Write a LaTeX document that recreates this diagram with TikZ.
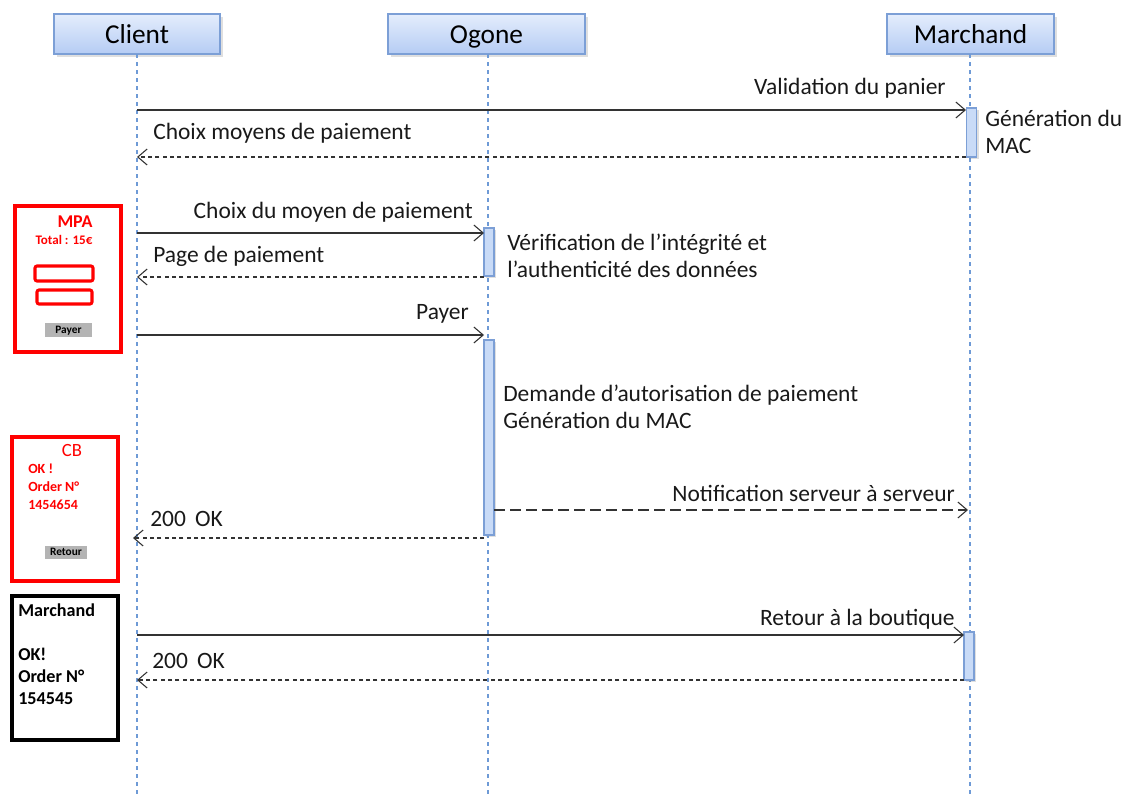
\documentclass[tikz,border=0pt]{standalone}
\usepackage{fontspec}
\setmainfont{Carlito}
\usetikzlibrary{arrows.meta,shadows}
\definecolor{hdrtop}{HTML}{E4EDFC}
\definecolor{hdrbot}{HTML}{B5CCF4}
\definecolor{hdredge}{HTML}{7C9FD6}
\definecolor{lifeblue}{HTML}{6E9AD6}
\definecolor{actfill}{HTML}{C9DBF7}
\definecolor{btngray}{HTML}{B4B4B4}
\tikzset{
  head/.style={draw=hdredge, line width=0.9pt, top color=hdrtop, bottom color=hdrbot,
    minimum height=30pt, inner sep=0pt, text height=14.5pt, text depth=0pt, font=\fontsize{20.5pt}{24pt}\selectfont,
    drop shadow={shadow xshift=2pt, shadow yshift=-2pt, opacity=0.25}},
  life/.style={draw=lifeblue, line width=0.9pt, dash pattern=on 3pt off 3pt},
  act/.style={draw=hdredge, fill=actfill, line width=0.8pt, minimum width=7.5pt, inner sep=0pt,
    drop shadow={shadow xshift=1.5pt, shadow yshift=-1.5pt, opacity=0.25}},
  msg/.style={draw=black!80, line width=0.8pt, -{Straight Barb[length=7pt,width=12pt]}},
  ret/.style={msg, dash pattern=on 3pt off 2.5pt},
  notif/.style={msg, dash pattern=on 8pt off 4pt},
  lbl/.style={font=\fontsize{17.6pt}{20pt}\selectfont, inner sep=0pt, text=black!90},
  note/.style={font=\fontsize{17.6pt}{20.25pt}\selectfont, inner sep=0pt, align=left, anchor=north west, text=black!90},
  redbox/.style={draw=red, line width=3pt, inner sep=0pt},
  blkbox/.style={draw=black, line width=3pt, inner sep=0pt},
  field/.style={draw=red, line width=2.3pt, rounded corners=1.5pt, inner sep=0pt},
  btn/.style={fill=btngray, inner sep=0pt, text height=6.5pt, text depth=1.5pt, font=\bfseries\fontsize{8.5pt}{9pt}\selectfont},
}
\begin{document}
\begin{tikzpicture}[x=0.75pt,y=-0.75pt]
\useasboundingbox (0,0) rectangle (1128,796);
% headers
\node[head, minimum width=124.5pt] (client) at (137,34) {Client};
\node[head, minimum width=147.75pt] (ogone) at (486.5,34) {Ogone};
\node[head, minimum width=125.25pt] (march) at (970.5,34) {Marchand};
% lifelines
\coordinate (cltop) at (137,54); \coordinate (clend) at (137,796);
\coordinate (ogtop) at (488,54); \coordinate (ogend) at (488,796);
\coordinate (matop) at (970,54); \coordinate (maend) at (970,796);
\draw[life] (cltop) -- (clend);
\draw[life] (ogtop) -- (ogend);
\draw[life] (matop) -- (maend);
% activation bars
\node[act, minimum height=36.75pt] (a1) at (971.5,132.5) {};
\node[act, minimum height=36pt] (a2) at (489,252) {};
\node[act, minimum height=146.25pt] (a3) at (489,437.5) {};
\node[act, minimum height=36pt] (a4) at (969,656) {};
% message coordinates
\coordinate (m1s) at (137,110); \coordinate (m1e) at (966,110);
\coordinate (m2s) at (966,157); \coordinate (m2e) at (137,157);
\coordinate (m3s) at (137,233); \coordinate (m3e) at (484,233);
\coordinate (m4s) at (484,277); \coordinate (m4e) at (137,277);
\coordinate (m5s) at (137,335); \coordinate (m5e) at (484,335);
\coordinate (m6s) at (494,510); \coordinate (m6e) at (968,510);
\coordinate (m7s) at (484,538); \coordinate (m7e) at (133,538);
\coordinate (m8s) at (137,635); \coordinate (m8e) at (964,635);
\coordinate (m9s) at (964,680); \coordinate (m9e) at (137,680);
\draw[msg] (m1s) -- (m1e);
\draw[ret] (m2s) -- (m2e);
\draw[msg] (m3s) -- (m3e);
\draw[ret] (m4s) -- (m4e);
\draw[msg] (m5s) -- (m5e);
\draw[notif] (m6s) -- (m6e);
\draw[ret] (m7s) -- (m7e);
\draw[msg] (m8s) -- (m8e);
\draw[ret] (m9s) -- (m9e);
% labels
\node[lbl, anchor=east] (l1) at (946,88) {Validation du panier};
\node[lbl, anchor=west] (l2) at (153,133) {Choix moyens de paiement};
\node[lbl, anchor=east] (l3) at (473,212) {Choix du moyen de paiement};
\node[lbl, anchor=west] (l4) at (153,256) {Page de paiement};
\node[lbl, anchor=east] (l5) at (469,314) {Payer};
\node[lbl, anchor=east] (l6) at (955,493) {Notification serveur à serveur};
\node[lbl, anchor=west] (l7) at (150,519) {200\, OK};
\node[lbl, anchor=east] (l8) at (955,619) {Retour à la boutique};
\node[lbl, anchor=west] (l9) at (152,661) {200\, OK};
% notes
\node[note] (n1) at (985,110) {Génération du\\MAC};
\node[note] (n2) at (507,234) {Vérification de l’intégrité et\\l’authenticité des données};
\node[note] (n3) at (503,385) {Demande d’autorisation de paiement\\Génération du MAC};
% MPA screen
\node[redbox, minimum width=79.5pt, minimum height=109.5pt] (mpa) at (68,279) {};
\node[text=red, font=\bfseries\fontsize{13.5pt}{15pt}\selectfont, inner sep=0pt] (mpat) at (75,222) {MPA};
\node[text=red, font=\bfseries\fontsize{9.8pt}{11pt}\selectfont, inner sep=0pt] (mpatot) at (64,240) {Total : 15€};
\node[field, minimum width=43.5pt, minimum height=11.25pt] (f1) at (64,273.5) {};
\node[field, minimum width=41.25pt, minimum height=10.5pt] (f2) at (64.5,297) {};
\node[btn, minimum width=35pt, minimum height=10.5pt] (b1) at (68.5,330) {Payer};
% CB screen
\node[redbox, minimum width=79.5pt, minimum height=108pt] (cb) at (65,509) {};
\node[text=red, font=\fontsize{14pt}{15pt}\selectfont, inner sep=0pt] (cbt) at (72,451) {CB};
\node[text=red, font=\bfseries\fontsize{10.5pt}{13.5pt}\selectfont, inner sep=0pt, align=left, anchor=north west] (cbtx) at (28,464) {OK !\\Order N°\\1454654};
\node[btn, minimum width=31.5pt, minimum height=10pt] (b2) at (66,552.5) {Retour};
% Marchand screen
\node[blkbox, minimum width=79.5pt, minimum height=108pt] (mb) at (65,668) {};
\node[font=\bfseries\fontsize{13.6pt}{16.5pt}\selectfont, inner sep=0pt, align=left, anchor=north west] (mbtx) at (18,604) {Marchand\\\mbox{}\\OK!\\Order N°\\154545};
\end{tikzpicture}
\end{document}
